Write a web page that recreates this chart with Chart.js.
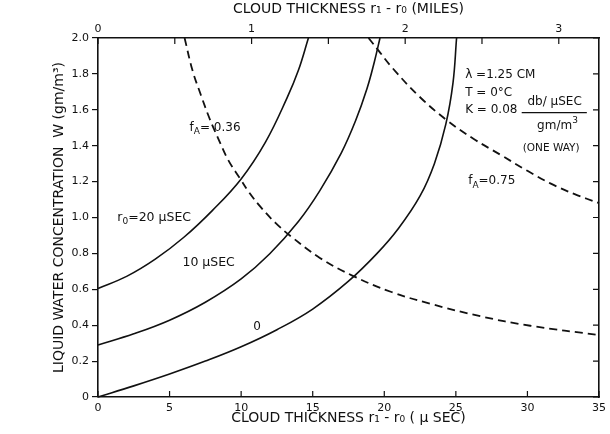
<!DOCTYPE html>
<html>
<head>
<meta charset="utf-8">
<title>Liquid water concentration vs cloud thickness</title>
<script src="https://cdn.jsdelivr.net/npm/chart.js@4.4.1/dist/chart.umd.min.js"></script>
<style>
  html, body { margin: 0; padding: 0; background: #fff; }
  #wrap { width: 610px; height: 434px; }
</style>
</head>
<body>
<div id="wrap"><canvas id="chart" width="610" height="434"></canvas></div>
<script>
// cloud thickness r1 - r0 (µsec) and liquid water W (gm/m3)
const r20X = [0, 2, 4, 6, 8, 10, 11.7, 13.2, 14.0, 14.7];
const r20Y = [0.605, 0.672, 0.768, 0.89, 1.04, 1.215, 1.42, 1.665, 1.82, 2.0];

const r10X = [0, 2.5, 5, 7.5, 10, 12, 14, 15.5, 17, 18, 18.8, 19.3, 19.7];
const r10Y = [0.29, 0.352, 0.428, 0.528, 0.658, 0.798, 0.978, 1.15, 1.36, 1.54, 1.72, 1.865, 2.0];

const r00X = [0, 2.5, 5, 7.5, 10, 12.5, 15, 17.5, 19.5, 21, 22.5, 23.5, 24.3, 24.8, 25.05];
const r00Y = [0, 0.062, 0.128, 0.20, 0.28, 0.375, 0.49, 0.645, 0.80, 0.94, 1.12, 1.30, 1.52, 1.75, 2.0];

// constant fraction absorbed f_A (dashed)
const fa36X = [6.05, 6.6, 7.2, 7.8, 8.4, 9.1, 9.9, 10.6, 11.4, 12.4, 13.4, 15.5, 17.8, 20.5, 23.2, 26.7, 30.2, 35];
const fa36Y = [2.0, 1.82, 1.68, 1.55, 1.44, 1.32, 1.22, 1.135, 1.055, 0.97, 0.90, 0.775, 0.675, 0.585, 0.52, 0.45, 0.397, 0.345];

const fa75X = [18.9, 19.6, 20.6, 22.5, 24.4, 26.2, 28.1, 30, 31.6, 33.3, 35];
const fa75Y = [2.0, 1.93, 1.83, 1.67, 1.54, 1.44, 1.35, 1.26, 1.19, 1.13, 1.08];

const USEC_PER_MILE = 10.73;   // radar time per mile
const X_MAX = 35;

const FONT = "'DejaVu Sans', sans-serif";

function pts(xs, ys) {
  return xs.map((x, i) => ({ x: x, y: ys[i] }));
}

function curve(label, xs, ys, dashed) {
  return {
    label: label,
    data: pts(xs, ys),
    showLine: true,
    borderColor: '#111',
    borderWidth: dashed ? 1.8 : 1.6,
    borderDash: dashed ? [8, 5] : [],
    pointRadius: 0,
    tension: 0.4,
    clip: 2
  };
}

// text written on the figure, placed in data units
const notes = [
  { x: 6.4,  y: 1.50,  parts: [['f'], ['A', 'sub'], ['= 0.36']] },
  { x: 1.35, y: 1.00,  parts: [['r'], ['0', 'sub'], ['=20 μSEC']], size: 12.5 },
  { x: 5.9,  y: 0.75,  parts: [['10 μSEC']], size: 12.5 },
  { x: 10.85, y: 0.39, parts: [['0']] },
  { x: 25.65, y: 1.794, parts: [['λ =1.25 CM']] },
  { x: 25.65, y: 1.694, parts: [['T = 0°C']] },
  { x: 25.65, y: 1.599, parts: [['K = 0.08']] },
  { x: 31.9, y: 1.643, parts: [['db/ μSEC']], align: 'center' },
  { x: 32.1, y: 1.51,  parts: [['gm/m'], ['3', 'sup']], align: 'center' },
  { x: 31.66, y: 1.387, parts: [['(ONE WAY)']], align: 'center', size: 10.5 },
  { x: 25.86, y: 1.203, parts: [['f'], ['A', 'sub'], ['=0.75']] }
];
const fracBar = { x0: 29.6, x1: 34.15, y: 1.584 };

function drawParts(ctx, px, py, parts, size, align) {
  const big = size + 'px ' + FONT;
  const small = Math.round(size * 0.72) + 'px ' + FONT;
  let total = 0;
  parts.forEach(p => { ctx.font = p[1] ? small : big; total += ctx.measureText(p[0]).width; });
  let cx = align === 'center' ? px - total / 2 : px;
  parts.forEach(p => {
    ctx.font = p[1] ? small : big;
    let dy = 0;
    if (p[1] === 'sub') dy = size * 0.35;
    if (p[1] === 'sup') dy = -size * 0.4;
    ctx.fillText(p[0], cx, py + dy);
    cx += ctx.measureText(p[0]).width;
  });
}

const figureText = {
  id: 'figureText',
  afterDatasetsDraw(chart) {
    const { ctx, scales } = chart;
    ctx.save();
    ctx.fillStyle = '#111';
    ctx.textBaseline = 'middle';
    ctx.textAlign = 'left';
    notes.forEach(n => {
      drawParts(ctx, scales.x.getPixelForValue(n.x), scales.y.getPixelForValue(n.y),
        n.parts, n.size || 12, n.align);
    });
    ctx.strokeStyle = '#111';
    ctx.lineWidth = 1.2;
    ctx.beginPath();
    const by = scales.y.getPixelForValue(fracBar.y);
    ctx.moveTo(scales.x.getPixelForValue(fracBar.x0), by);
    ctx.lineTo(scales.x.getPixelForValue(fracBar.x1), by);
    ctx.stroke();
    ctx.restore();
  }
};

// tick marks that point into the plot on bottom, top and right axes
const innerTicks = {
  id: 'innerTicks',
  afterDraw(chart) {
    const { ctx, chartArea: a, scales } = chart;
    ctx.save();
    ctx.strokeStyle = '#111';
    ctx.lineWidth = 1.2;
    ctx.beginPath();
    scales.x.ticks.forEach(t => {
      const px = scales.x.getPixelForValue(t.value);
      ctx.moveTo(px, a.bottom); ctx.lineTo(px, a.bottom - 6);
    });
    scales.x2.ticks.forEach(t => {
      const px = scales.x2.getPixelForValue(t.value);
      ctx.moveTo(px, a.top); ctx.lineTo(px, a.top + 6);
    });
    scales.y2.ticks.forEach(t => {
      const py = scales.y2.getPixelForValue(t.value);
      ctx.moveTo(a.right, py); ctx.lineTo(a.right - 6, py);
    });
    ctx.stroke();
    ctx.restore();
  }
};

const border = { display: true, color: '#111', width: 1.6 };
const noGrid = { display: false };

new Chart(document.getElementById('chart'), {
  type: 'scatter',
  data: {
    datasets: [
      curve('r0 = 20 µsec', r20X, r20Y, false),
      curve('r0 = 10 µsec', r10X, r10Y, false),
      curve('r0 = 0', r00X, r00Y, false),
      curve('fA = 0.36', fa36X, fa36Y, true),
      curve('fA = 0.75', fa75X, fa75Y, true)
    ]
  },
  options: {
    responsive: false,
    animation: false,
    layout: { padding: 0 },
    plugins: {
      legend: { display: false },
      tooltip: { enabled: false }
    },
    scales: {
      x: {
        type: 'linear', position: 'bottom', min: 0, max: X_MAX,
        border: border, grid: noGrid,
        ticks: { stepSize: 5, padding: -3, color: '#111', font: { family: FONT, size: 11 } },
        title: {
          display: true, text: 'CLOUD THICKNESS r₁ - r₀ ( μ SEC)', color: '#111',
          font: { family: FONT, size: 14 }, padding: { top: 0, bottom: 7 }
        },
        afterFit(s) { s.height = 37; }
      },
      x2: {
        type: 'linear', position: 'top', min: 0, max: X_MAX / USEC_PER_MILE,
        border: border, grid: noGrid,
        ticks: {
          stepSize: 0.5, includeBounds: false, padding: -6, color: '#111',
          font: { family: FONT, size: 11 },
          callback: v => Number.isInteger(v) ? String(v) : ''
        },
        title: {
          display: true, text: 'CLOUD THICKNESS r₁ - r₀ (MILES)', color: '#111',
          font: { family: FONT, size: 14 }, padding: { top: 1, bottom: 0 }
        },
        afterFit(s) { s.height = 38; }
      },
      y: {
        type: 'linear', position: 'left', min: 0, max: 2,
        border: border,
        grid: { display: true, drawOnChartArea: false, drawTicks: true, tickLength: 6, color: '#111', lineWidth: 1.2 },
        ticks: {
          stepSize: 0.2, padding: 3, color: '#111', font: { family: FONT, size: 11 },
          callback: v => v === 0 ? '0' : v.toFixed(1)
        },
        title: {
          display: true, text: 'LIQUID WATER CONCENTRATION  W (gm/m³)', color: '#111',
          font: { family: FONT, size: 14 }, padding: { top: 51, bottom: 0 }
        },
        afterFit(s) { s.width = 98; }
      },
      y2: {
        type: 'linear', position: 'right', min: 0, max: 2,
        border: border, grid: noGrid,
        ticks: { stepSize: 0.2, display: false },
        afterFit(s) { s.width = 11; }
      }
    }
  },
  plugins: [figureText, innerTicks]
});
</script>
</body>
</html>
